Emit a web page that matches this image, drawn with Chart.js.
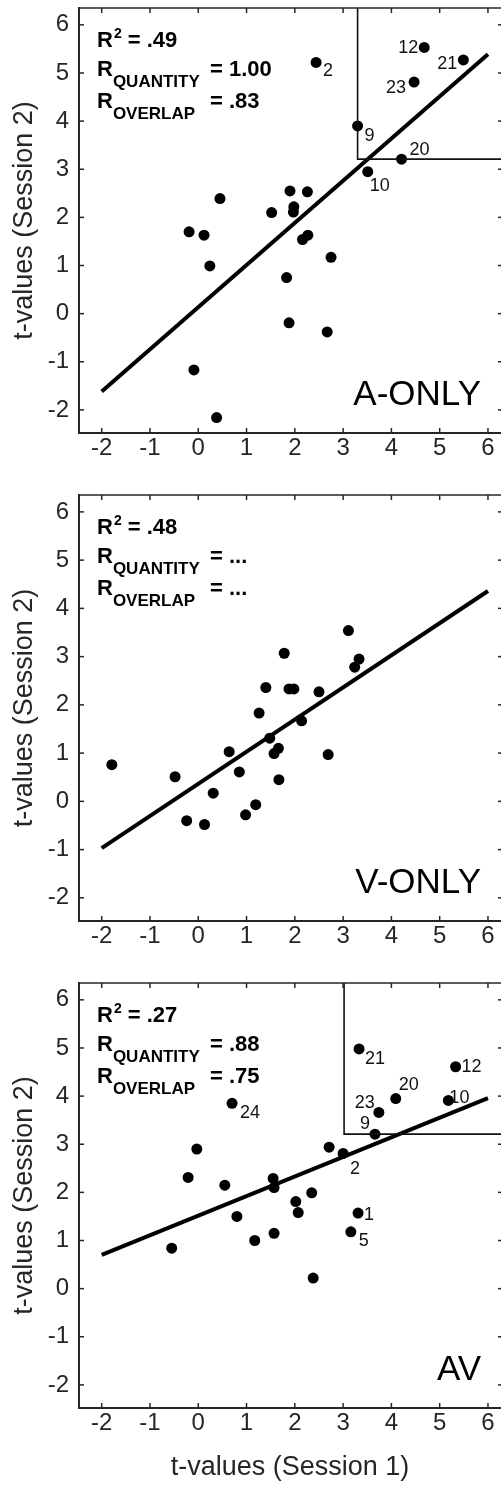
<!DOCTYPE html>
<html>
<head>
<meta charset="utf-8">
<script src="https://cdn.jsdelivr.net/npm/chart.js@4"></script>
<style>
  html, body { margin: 0; padding: 0; background: #fff; }
  body { width: 501px; height: 1485px; overflow: hidden; position: relative; }
  canvas { position: absolute; left: 0; }
</style>
</head>
<body>
<canvas id="aOnly" width="501" height="480" style="top:0px"></canvas>
<canvas id="vOnly" width="501" height="490" style="top:480px"></canvas>
<canvas id="av" width="501" height="515" style="top:970px"></canvas>
<script>
// tick values shared by all panels
const xTicks = [-2, -1, 0, 1, 2, 3, 4, 5, 6];
const yTicks = [-2, -1, 0, 1, 2, 3, 4, 5, 6];
const fitX = [-2, 6];

// A-ONLY
const aOnlyS1 = [2.44, 4.68, 5.49, 4.47, 3.30, 4.21, 3.51, 0.45, 1.90, 2.26, 1.52, 1.98, 1.97,
  -0.19, 0.12, 2.16, 2.27, 0.24, 1.83, 2.75, 1.88, 2.67, -0.09, 0.38];
const aOnlyS2 = [5.22, 5.53, 5.27, 4.81, 3.90, 3.21, 2.95, 2.39, 2.55, 2.53, 2.10, 2.22, 2.11,
  1.70, 1.63, 1.54, 1.63, 0.99, 0.75, 1.17, -0.19, -0.38, -1.17, -2.16];
const aOnlyIds = ['2', '12', '21', '23', '9', '20', '10'];
const aOnlyFit = [-1.62, 5.39];
const aOnlyBox = [3.30, 3.21];
const aOnlyStats = ['.49', '1.00', '.83'];

// V-ONLY
const vOnlyS1 = [3.11, 1.78, 3.33, 3.24, 1.40, 1.88, 1.98, 2.50, 1.26, 2.14, 1.48, 1.66, 1.57,
  0.64, 2.69, -1.79, -0.48, 0.85, 1.67, 0.31, 1.19, -0.24, 0.98, 0.13];
const vOnlyS2 = [3.54, 3.07, 2.95, 2.78, 2.36, 2.33, 2.33, 2.27, 1.83, 1.67, 1.31, 1.10, 0.99,
  1.03, 0.97, 0.76, 0.51, 0.61, 0.45, 0.17, -0.07, -0.40, -0.28, -0.48];
const vOnlyIds = [];
const vOnlyFit = [-0.97, 4.36];
const vOnlyStats = ['.48', '...', '...'];

// AV
const avS1 = [3.33, 5.33, 5.18, 4.09, 3.74, 3.66, 0.70, 3.00, 3.31, 3.16, -0.03, 2.71, -0.21,
  0.55, 1.55, 1.57, 2.35, 2.02, 2.07, 0.80, 1.57, 1.17, -0.55, 2.38];
const avS2 = [4.98, 4.61, 3.91, 3.95, 3.66, 3.21, 3.85, 2.81, 1.57, 1.18, 2.90, 2.94, 2.31,
  2.15, 2.29, 2.10, 1.99, 1.81, 1.58, 1.50, 1.15, 1.00, 0.84, 0.22];
const avIds = ['21', '12', '10', '20', '23', '9', '24', '2', '1', '5'];
const avFit = [0.70, 3.96];
const avBox = [3.02, 3.21];
const avStats = ['.27', '.88', '.75'];

// label placement (dx, dy from the dot, text align)
const aOnlyLabelPos = { '2': [7, 14, 'left'], '12': [-6, 6, 'right'], '21': [-6, 9, 'right'],
  '23': [-8, 11, 'right'], '9': [7, 15, 'left'], '20': [8, -4, 'left'], '10': [2, 19, 'left'] };
const avLabelPos = { '21': [6, 15, 'left'], '12': [6, 5, 'left'], '10': [1, 3, 'left'],
  '20': [3, -9, 'left'], '23': [-4, -4, 'right'], '9': [-5, -5, 'right'], '24': [8, 15, 'left'],
  '2': [7, 21, 'left'], '1': [6, 7, 'left'], '5': [8, 14, 'left'] };

const FONT = '"Liberation Sans", Arial, sans-serif';
const INK = '#262626';

function line(ctx, x1, y1, x2, y2) {
  ctx.beginPath(); ctx.moveTo(x1, y1); ctx.lineTo(x2, y2); ctx.stroke();
}

function drawStats(ctx, a, stats) {
  const left = a.left + 18;
  const eqX = a.left + 131;
  ctx.fillStyle = '#000';
  ctx.textAlign = 'left';
  ctx.textBaseline = 'alphabetic';
  let bx = left, by = a.top + 39;
  ctx.font = 'bold 22px ' + FONT;
  ctx.fillText('R', bx, by);
  bx += ctx.measureText('R').width + 1;
  ctx.font = 'bold 14px ' + FONT;
  ctx.fillText('2', bx, by - 9);
  bx += ctx.measureText('2').width;
  ctx.font = 'bold 22px ' + FONT;
  ctx.fillText(' = ' + stats[0], bx, by);

  [['QUANTITY', stats[1], 68], ['OVERLAP', stats[2], 100]].forEach(([name, val, dy]) => {
    const yy = a.top + dy;
    ctx.font = 'bold 22px ' + FONT;
    ctx.fillText('R', left, yy);
    const rw = ctx.measureText('R').width;
    ctx.font = 'bold 17px ' + FONT;
    ctx.fillText(name, left + rw, yy + 11);
    ctx.font = 'bold 22px ' + FONT;
    ctx.fillText('= ' + val, eqX, yy);
  });
}

const panelPlugin = {
  id: 'panel',
  afterDatasetsDraw(chart, args, o) {
    const { ctx, chartArea: a, scales: { x, y } } = chart;
    ctx.save();
    if (o.box) {
      const bx = x.getPixelForValue(o.box[0]);
      const by = y.getPixelForValue(o.box[1]);
      ctx.strokeStyle = '#111';
      ctx.lineWidth = 1.6;
      ctx.beginPath();
      ctx.moveTo(bx, a.top); ctx.lineTo(bx, by); ctx.lineTo(a.right, by);
      ctx.stroke();
    }
    // participant numbers
    ctx.font = '18px ' + FONT;
    ctx.fillStyle = '#111';
    ctx.textBaseline = 'alphabetic';
    o.ids.forEach((id, i) => {
      const p = o.pos[id];
      if (!p) return;
      const px = x.getPixelForValue(o.s1[i]);
      const py = y.getPixelForValue(o.s2[i]);
      ctx.textAlign = p[2];
      ctx.fillText(id, px + p[0], py + p[1]);
    });
    drawStats(ctx, a, o.stats);
    ctx.font = '35px ' + FONT;
    ctx.fillStyle = '#000';
    ctx.textAlign = 'right';
    ctx.fillText(o.label, a.right - 20, a.bottom - 28);
    ctx.restore();
  },
  afterDraw(chart) {
    const { ctx, chartArea: a, scales: { x, y } } = chart;
    ctx.save();
    ctx.strokeStyle = INK;
    ctx.lineWidth = 1.5;
    line(ctx, a.left, a.top, a.right, a.top);
    ctx.lineWidth = 2;
    line(ctx, a.left, a.top - 1, a.left, a.bottom + 1);
    line(ctx, a.left - 1, a.bottom, a.right, a.bottom);
    ctx.lineWidth = 1.5;
    xTicks.forEach(v => {
      const px = x.getPixelForValue(v);
      line(ctx, px, a.bottom, px, a.bottom - 5);
      line(ctx, px, a.top, px, a.top + 5);
    });
    yTicks.forEach(v => {
      const py = y.getPixelForValue(v);
      line(ctx, a.left, py, a.left + 5, py);
      line(ctx, a.right, py, a.right - 3, py);
    });
    ctx.restore();
  }
};

function makePanel(id, cfg) {
  new Chart(document.getElementById(id), {
    type: 'scatter',
    data: {
      datasets: [
        {
          type: 'line',
          data: fitX.map((v, i) => ({ x: v, y: cfg.fit[i] })),
          borderColor: '#000',
          borderWidth: 4,
          pointRadius: 0,
          order: 0
        },
        {
          data: cfg.s1.map((v, i) => ({ x: v, y: cfg.s2[i] })),
          backgroundColor: '#000',
          borderWidth: 0,
          pointRadius: 5.5,
          order: 1
        }
      ]
    },
    options: {
      responsive: false,
      animation: false,
      devicePixelRatio: 1,
      layout: { autoPadding: false, padding: { top: cfg.top, right: 0, left: 0, bottom: 0 } },
      plugins: {
        legend: { display: false },
        tooltip: { enabled: false },
        panel: cfg
      },
      scales: {
        x: {
          type: 'linear',
          min: -2.47,
          max: 6.27,
          grid: { display: false, drawTicks: false },
          border: { display: false },
          afterBuildTicks: s => { s.ticks = xTicks.map(v => ({ value: v })); },
          afterFit: s => { s.height = cfg.xh; s.paddingLeft = 0; s.paddingRight = 0; },
          ticks: { font: { family: FONT, size: 24 }, color: INK, padding: 1, maxRotation: 0, autoSkip: false },
          title: {
            display: !!cfg.xTitle,
            text: 't-values (Session 1)',
            color: INK,
            font: { family: FONT, size: 27 },
            padding: { top: 0, bottom: 1 }
          }
        },
        y: {
          type: 'linear',
          min: -2.48,
          max: 6.35,
          grid: { display: false, drawTicks: false },
          border: { display: false },
          afterBuildTicks: s => { s.ticks = yTicks.map(v => ({ value: v })); },
          afterFit: s => { s.width = 79; s.paddingTop = 0; s.paddingBottom = 0; },
          ticks: { font: { family: FONT, size: 24 }, color: INK, padding: 10 },
          title: {
            display: true,
            text: 't-values (Session 2)',
            color: INK,
            font: { family: FONT, size: 27 },
            padding: { top: 8, bottom: 0 }
          }
        }
      }
    },
    plugins: [panelPlugin]
  });
}

makePanel('aOnly', { s1: aOnlyS1, s2: aOnlyS2, ids: aOnlyIds, pos: aOnlyLabelPos, fit: aOnlyFit,
  box: aOnlyBox, stats: aOnlyStats, label: 'A-ONLY', top: 8, xh: 47 });
makePanel('vOnly', { s1: vOnlyS1, s2: vOnlyS2, ids: vOnlyIds, pos: {}, fit: vOnlyFit,
  box: null, stats: vOnlyStats, label: 'V-ONLY', top: 15, xh: 49 });
makePanel('av', { s1: avS1, s2: avS2, ids: avIds, pos: avLabelPos, fit: avFit,
  box: avBox, stats: avStats, label: 'AV', top: 13, xh: 77, xTitle: true });
</script>
</body>
</html>
